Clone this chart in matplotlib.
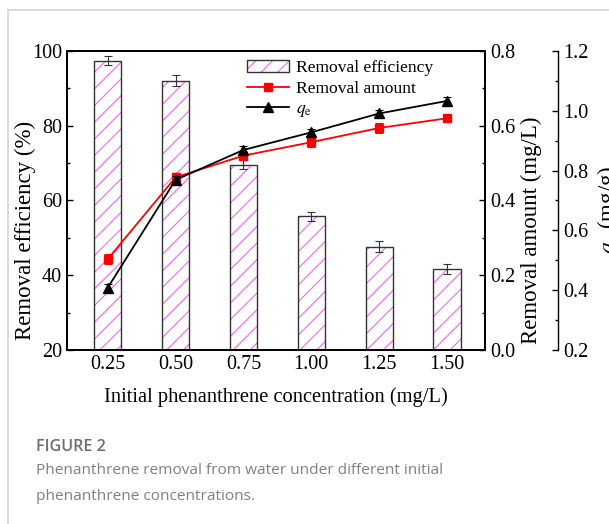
import matplotlib
matplotlib.use("Agg")
import matplotlib.pyplot as plt
from matplotlib.lines import Line2D
from matplotlib.patches import Patch
import matplotlib.ticker as mticker
from matplotlib.legend_handler import HandlerBase
from matplotlib.patches import Rectangle

# ---- data ----
concentrations = [0.25, 0.50, 0.75, 1.00, 1.25, 1.50]
tick_labels = ["0.25", "0.50", "0.75", "1.00", "1.25", "1.50"]
removal_efficiency = [97.4, 92.1, 69.6, 55.8, 47.6, 41.6]
removal_efficiency_err = [1.2, 1.4, 1.2, 1.2, 1.5, 1.3]
removal_amount = [0.243, 0.462, 0.520, 0.556, 0.594, 0.620]
removal_amount_err = [0.013, 0.012, 0.012, 0.012, 0.013, 0.010]
qe = [0.408, 0.769, 0.869, 0.928, 0.991, 1.033]
qe_err = [0.012, 0.012, 0.012, 0.012, 0.013, 0.012]

HATCH_COLOR = '#f55af5'
EDGE = '#333333'
plt.rcParams['hatch.linewidth'] = 0.75
serif = ['Liberation Serif', 'DejaVu Serif']
plt.rcParams['font.family'] = serif
plt.rcParams['mathtext.fontset'] = 'stix'

fig = plt.figure(figsize=(6.09, 5.24), dpi=100)
ax = fig.add_axes([67/609, 1-350/524, (485-67)/609, (350-51)/524])

# hatch layer (magenta) and outline layer (dark)
ax.bar(concentrations, removal_efficiency, width=0.1, facecolor='white',
       edgecolor=HATCH_COLOR, linewidth=0, hatch='//', zorder=2)
ax.bar(concentrations, removal_efficiency, width=0.1, facecolor='none',
       edgecolor=EDGE, linewidth=1.0, zorder=2.1)
ax.errorbar(concentrations, removal_efficiency, yerr=removal_efficiency_err, fmt='none',
            ecolor=EDGE, elinewidth=0.8, capsize=3, capthick=0.8, zorder=3)
ax.set_ylim(20, 100)
ax.set_xlim(0.1, 1.64)
ax.set_xticks(concentrations)
ax.set_xticklabels(tick_labels)
ax.yaxis.set_major_locator(mticker.MultipleLocator(20))
ax.yaxis.set_minor_locator(mticker.MultipleLocator(10))
ax.tick_params(axis='both', which='both', direction='in', labelsize=14.5)
ax.tick_params(axis='y', which='major', length=4, width=1)
ax.tick_params(axis='y', which='minor', length=2.5, width=1)
ax.tick_params(axis='x', which='major', length=4, width=1, top=False)
ax.set_xlabel("Initial phenanthrene concentration (mg/L)", fontsize=14.8, labelpad=10)
ax.set_ylabel("Removal efficiency (%)", fontsize=16.5)
ax.yaxis.set_label_coords(-0.074, 0.40)
for s in ax.spines.values():
    s.set_linewidth(1.3)

ax2 = ax.twinx()
ax2.errorbar(concentrations, removal_amount, yerr=removal_amount_err, color='#ff0000',
             marker='s', markersize=6, linewidth=1.3, elinewidth=0.8, capsize=3,
             capthick=0.8, zorder=5)
ax2.set_ylim(0, 0.8)
ax2.yaxis.set_major_locator(mticker.MultipleLocator(0.2))
ax2.yaxis.set_minor_locator(mticker.MultipleLocator(0.1))
ax2.yaxis.set_major_formatter(mticker.FormatStrFormatter('%.1f'))
ax2.tick_params(axis='y', which='both', direction='in', labelsize=14.5)
ax2.tick_params(axis='y', which='major', length=4, width=1)
ax2.tick_params(axis='y', which='minor', length=2.5, width=1)
ax2.set_ylabel("Removal amount (mg/L)", fontsize=16.5)
ax2.yaxis.set_label_coords(1.086, 0.40)
for s in ax2.spines.values():
    s.set_linewidth(1.3)

ax3 = ax.twinx()
ax3.spines['right'].set_position(('axes', 1.175))
for k in ['top', 'bottom', 'left']:
    ax3.spines[k].set_visible(False)
ax3.spines['right'].set_linewidth(1.0)
ax3.errorbar(concentrations, qe, yerr=qe_err, color='black', marker='^',
             markersize=7, linewidth=1.3, elinewidth=0.8, capsize=3,
             capthick=0.8, zorder=6)
ax3.set_ylim(0.2, 1.2)
ax3.yaxis.set_major_locator(mticker.MultipleLocator(0.2))
ax3.yaxis.set_minor_locator(mticker.MultipleLocator(0.1))
ax3.yaxis.set_major_formatter(mticker.FormatStrFormatter('%.1f'))
ax3.tick_params(axis='y', which='both', direction='in', labelsize=14.5)
ax3.tick_params(axis='y', which='major', length=4, width=1)
ax3.tick_params(axis='y', which='minor', length=2.5, width=1)
ax3.set_ylabel(r"$q_\mathrm{e}$ (mg/g)", fontsize=16.5)
ax3.yaxis.set_label_coords(1.262, 0.47)


class HatchHandler(HandlerBase):
    def create_artists(self, legend, orig_handle, xdescent, ydescent, width, height,
                       fontsize, trans):
        r1 = Rectangle((-xdescent, -ydescent), width, height, facecolor='white',
                       edgecolor=HATCH_COLOR, linewidth=0, hatch='//', transform=trans)
        r2 = Rectangle((-xdescent, -ydescent), width, height, facecolor='none',
                       edgecolor=EDGE, linewidth=1.0, transform=trans)
        return [r1, r2]


bar_handle = Patch(facecolor='white', edgecolor=EDGE)
handles = [bar_handle,
           Line2D([], [], color='#ff0000', marker='s', markersize=6, linewidth=1.3),
           Line2D([], [], color='black', marker='^', markersize=7, linewidth=1.3)]
labels = ["Removal efficiency", "Removal amount", r"$q_\mathrm{e}$"]
leg = ax3.legend(handles, labels, loc='upper left', bbox_to_anchor=(0.41, 1.0),
                 frameon=False, fontsize=12.6, handlelength=2.4, handletextpad=0.4,
                 labelspacing=0.25, borderaxespad=0.1,
                 handler_map={bar_handle: HatchHandler()})

# card border
fig.add_artist(Line2D([8/609, 1], [1-10/524, 1-10/524], color='#d4d4d4', linewidth=1.2))
fig.add_artist(Line2D([8/609, 8/609], [0, 1-10/524], color='#d4d4d4', linewidth=1.2))

cap_font = ['Open Sans', 'DejaVu Sans']
fig.text(36/609, 1-447/524, "FIGURE 2", fontsize=11.6, color='#6e6e6e',
         family=cap_font, fontweight='semibold', va='center', ha='left')
fig.text(36/609, 1-471/524, "Phenanthrene removal from water under different initial",
         fontsize=11.1, color='#808080', family=cap_font, va='center', ha='left')
fig.text(36/609, 1-496/524, "phenanthrene concentrations.",
         fontsize=11.1, color='#808080', family=cap_font, va='center', ha='left')

fig.savefig("out.png", dpi=100)
